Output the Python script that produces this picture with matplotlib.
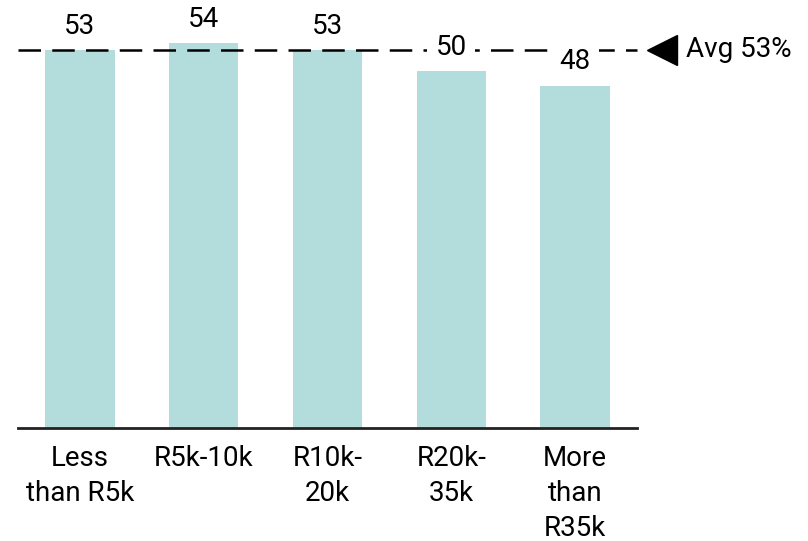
import matplotlib
matplotlib.use("Agg")
import matplotlib.pyplot as plt
from matplotlib.transforms import ScaledTranslation

categories = ["Less\nthan R5k", "R5k-10k", "R10k-\n20k", "R20k-\n35k", "More\nthan\nR35k"]
values = [53, 54, 53, 50, 48]
average = 53

plt.rcParams['font.family'] = ['Roboto', 'DejaVu Sans']

fig = plt.figure(figsize=(8.08, 5.41), dpi=100)
ax = fig.add_axes([18 / 808, (541 - 428) / 541, 619 / 808, 428 / 541])

x = range(len(categories))
ax.bar(x, values, width=0.56, color="#b3dddc", zorder=1)

ax.set_xlim(-0.5, len(categories) - 0.5)
ax.set_ylim(0, 60)

# dashed average line, pointer triangle and label to the right
ax.axhline(average, color="black", lw=1.8, dashes=(9, 4.5), zorder=2, clip_on=False)
marker_tr = ax.get_yaxis_transform() + ScaledTranslation(0.25, 0, fig.dpi_scale_trans)
ax.plot([1.0], [average], marker="<", markersize=21, color="black",
        transform=marker_tr, clip_on=False, zorder=3)
ax.annotate(f"Avg {average}%", xy=(1.0, average), xycoords=ax.get_yaxis_transform(),
            xytext=(35, 0), textcoords="offset points", va="center", ha="left",
            fontsize=20, annotation_clip=False)

for i, v in enumerate(values):
    ax.annotate(str(v), xy=(i, v), xytext=(0, 17), textcoords="offset points",
                ha="center", va="center", fontsize=20, zorder=4,
                bbox=dict(boxstyle="square,pad=0.3", fc="white", ec="none"))

ax.set_xticks(list(x))
ax.set_xticklabels(categories, fontsize=20, linespacing=1.38)
ax.tick_params(axis="x", length=0, pad=12)
ax.set_yticks([])

for side in ("top", "right", "left"):
    ax.spines[side].set_visible(False)
ax.spines["bottom"].set_linewidth(2)
ax.spines["bottom"].set_color("#222222")

fig.savefig("out.png", dpi=100)
